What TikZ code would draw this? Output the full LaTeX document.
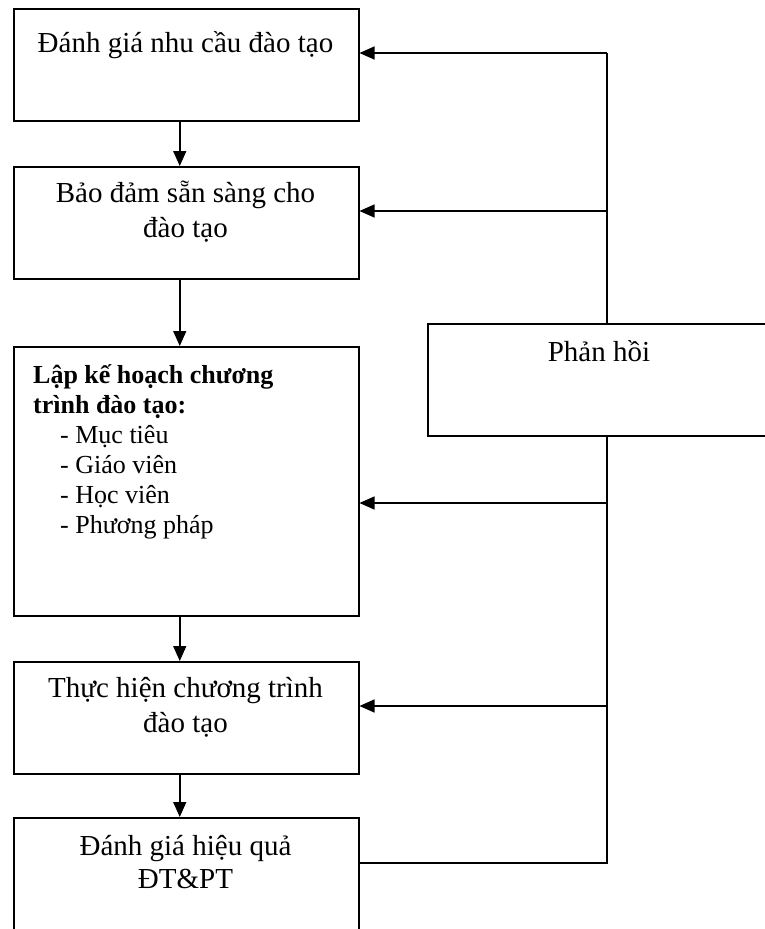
\documentclass[tikz,border=0pt]{standalone}
\usepackage{fontspec}
\setmainfont{Liberation Serif}
\usetikzlibrary{arrows.meta}
\begin{document}
\begin{tikzpicture}[x=1pt,y=-1pt,
  stagebox/.style={draw,line width=1.5pt,minimum width=345pt,anchor=north west,inner sep=0pt},
  caption/.style={inner sep=0pt,align=center,font=\fontsize{29}{35}\selectfont},
  flow/.style={line width=1.5pt,-{Triangle[length=15pt,width=13pt]}},
  back/.style={line width=1.5pt}]
\useasboundingbox (0,0) rectangle (764,929);

% process stages
\node[stagebox,minimum height=112pt] (b1) at (13,8) {};
\node[stagebox,minimum height=112pt] (b2) at (13,166) {};
\node[stagebox,minimum height=269pt] (b3) at (13,346) {};
\node[stagebox,minimum height=112pt] (b4) at (13,661) {};
\node[stagebox,minimum height=130pt] (b5) at (13,817) {};
% feedback box
\node[stagebox,minimum width=344pt,minimum height=112pt] (fb) at (427,323) {};

% texts (anchored on the baseline of their last line)
\node[caption,anchor=base] (t1) at (185.5,52) {Đánh giá nhu cầu đào tạo};
\node[caption,anchor=base] (t2) at (185.5,237) {Bảo đảm sẵn sàng cho\\đào tạo};
\node[caption,anchor=base] (t4) at (185.5,732) {Thực hiện chương trình\\đào tạo};
\node[caption,anchor=base,font=\fontsize{29}{33}\selectfont] (t5) at (185.5,888) {Đánh giá hiệu quả\\ĐT\&PT};
\node[caption,anchor=base] (tfb) at (599,361) {Phản hồi};
\node[inner sep=0pt,align=left,anchor=base west,font=\fontsize{26}{30}\selectfont] (t3) at (33,533)
  {\textbf{Lập kế hoạch chương}\\\textbf{trình đào tạo:}\\
   \hspace*{27pt}- Mục tiêu\\\hspace*{27pt}- Giáo viên\\
   \hspace*{27pt}- Học viên\\\hspace*{27pt}- Phương pháp};

% main flow
\draw[flow] ([xshift=-6.5pt]b1.south) -- ([xshift=-6.5pt]b2.north);
\draw[flow] ([xshift=-6.5pt]b2.south) -- ([xshift=-6.5pt]b3.north);
\draw[flow] ([xshift=-6.5pt]b3.south) -- ([xshift=-6.5pt]b4.north);
\draw[flow] ([xshift=-6.5pt]b4.south) -- ([xshift=-6.5pt]b5.north);

% feedback loop
\coordinate (s5) at (607,863);
\coordinate (sfbb) at (fb.south -| s5);
\coordinate (sfbt) at (fb.north -| s5);
\coordinate (s1) at (607,53);
\coordinate (s2) at (607,211);
\coordinate (s3) at (607,503);
\coordinate (s4) at (607,706);
\draw[back] (b5.east |- s5) -- (s5) -- (sfbb);
\draw[back] (sfbt) -- (s1);
\draw[flow] (s1) -- (b1.east |- s1);
\draw[flow] (s2) -- (b2.east |- s2);
\draw[flow] (s3) -- (b3.east |- s3);
\draw[flow] (s4) -- (b4.east |- s4);
\draw[back] (sfbb) -- (s4);
\end{tikzpicture}
\end{document}
